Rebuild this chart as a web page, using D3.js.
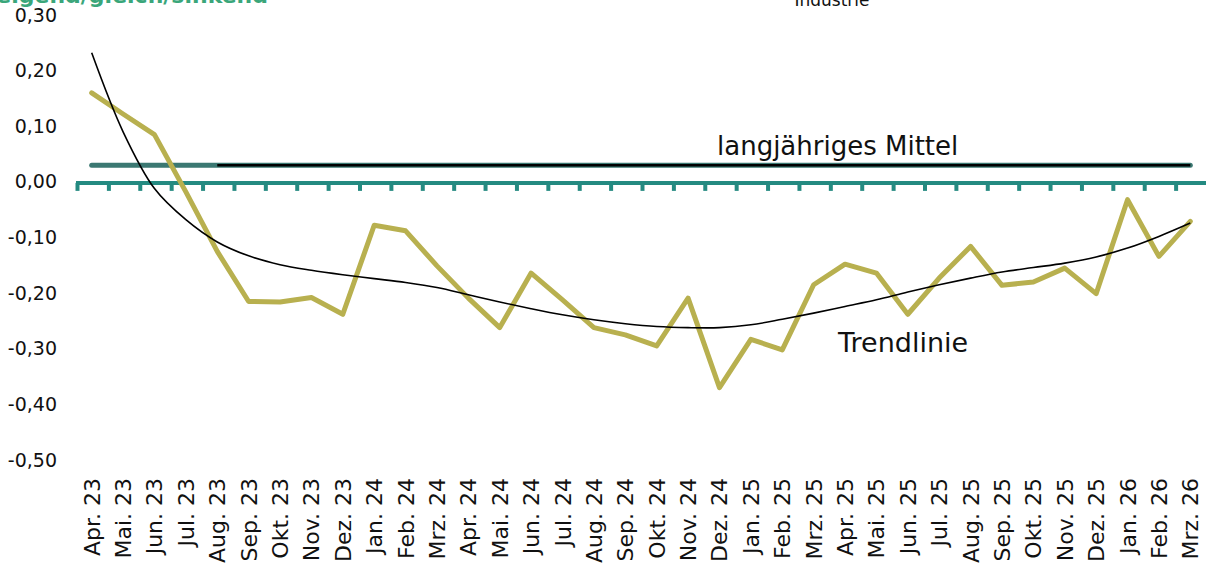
<!doctype html>
<html lang="de">
<head>
  <meta charset="utf-8">
  <title>Industrie - Tendenz</title>
<style>
body { margin: 0; background: #fff; }
svg { display: block; font-family: "DejaVu Sans", sans-serif; }
</style>
<script src="https://d3js.org/d3.v7.min.js"></script>
</head>
<body>
<div class="chart"></div>
<script>

  // months on the x axis
  let months = ["Apr. 23", "Mai. 23", "Jun. 23", "Jul. 23", "Aug. 23", "Sep. 23",
    "Okt. 23", "Nov. 23", "Dez. 23", "Jan. 24", "Feb. 24", "Mrz. 24",
    "Apr. 24", "Mai. 24", "Jun. 24", "Jul. 24", "Aug. 24", "Sep. 24",
    "Okt. 24", "Nov. 24", "Dez. 24", "Jan. 25", "Feb. 25", "Mrz. 25",
    "Apr. 25", "Mai. 25", "Jun. 25", "Jul. 25", "Aug. 25", "Sep. 25",
    "Okt. 25", "Nov. 25", "Dez. 25", "Jan. 26", "Feb. 26", "Mrz. 26"];

  // saldo steigend/gleich/sinkend
  let values = [0.160, 0.122, 0.085, -0.018, -0.125, -0.215,
    -0.216, -0.208, -0.238, -0.078, -0.088, -0.151,
    -0.209, -0.262, -0.164, -0.212, -0.262, -0.275,
    -0.295, -0.209, -0.370, -0.283, -0.302, -0.185,
    -0.148, -0.164, -0.238, -0.173, -0.116, -0.186,
    -0.180, -0.155, -0.201, -0.032, -0.134, -0.071];

  // trend line
  let trend = [0.232, 0.090, -0.012, -0.068, -0.108, -0.133,
    -0.149, -0.159, -0.167, -0.174, -0.181, -0.190,
    -0.203, -0.216, -0.228, -0.239, -0.248, -0.255,
    -0.260, -0.262, -0.262, -0.257, -0.247, -0.236,
    -0.224, -0.212, -0.198, -0.185, -0.173, -0.162,
    -0.154, -0.146, -0.135, -0.119, -0.098, -0.074];

  let mittel = 0.03;
  let yTicks = [0.3, 0.2, 0.1, 0, -0.1, -0.2, -0.3, -0.4, -0.5];

  let w = 1206, h = 567;

  let svg = d3.select(".chart").append("svg")
    .attr("width", w)
    .attr("height", h);

  let x = d3.scaleBand().domain(months).range([76, 1206]).padding(0);
  let y = d3.scaleLinear().domain([-0.5, 0.3]).range([460, 15]);
  let cx = d => x(d) + x.bandwidth() / 2;

  let de = d3.formatLocale({decimal: ",", thousands: ".", grouping: [3],
    currency: ["", " €"], minus: "-"});
  let fmt = de.format(".2f");

  // titles, cut off at the top like in the original
  svg.append("text")
    .attr("x", 268).attr("y", 3)
    .attr("text-anchor", "end")
    .attr("font-size", 22)
    .attr("font-weight", "bold")
    .attr("fill", "#3aa67a")
    .text("Tendenz: steigend/gleich/sinkend");

  svg.append("text")
    .attr("x", 832).attr("y", 6)
    .attr("text-anchor", "middle")
    .attr("font-size", 17)
    .attr("fill", "#111")
    .text("Industrie");

  // y axis, labels only
  let yAxis = svg.append("g")
    .attr("transform", "translate(60,0)")
    .call(d3.axisLeft(y).tickValues(yTicks).tickSize(0).tickPadding(3).tickFormat(fmt));
  yAxis.select(".domain").remove();
  yAxis.selectAll("text")
    .attr("font-size", 19)
    .attr("font-family", "DejaVu Sans, sans-serif")
    .attr("fill", "#111");

  // long-term mean: teal band, black line on top from Aug. 23
  svg.append("line")
    .attr("x1", cx(months[0])).attr("x2", cx(months[months.length - 1]))
    .attr("y1", y(mittel)).attr("y2", y(mittel))
    .attr("stroke", "#3b7872")
    .attr("stroke-width", 5)
    .attr("stroke-linecap", "round");
  svg.append("line")
    .attr("x1", cx(months[4])).attr("x2", cx(months[months.length - 1]))
    .attr("y1", y(mittel)).attr("y2", y(mittel))
    .attr("stroke", "#000")
    .attr("stroke-width", 2.5);

  // zero line with ticks at the band edges
  let zero = y(0) + 1;
  svg.append("line")
    .attr("x1", 76).attr("x2", w)
    .attr("y1", zero).attr("y2", zero)
    .attr("stroke", "#248a81")
    .attr("stroke-width", 4);
  svg.append("g").selectAll("line")
    .data(months)
    .enter()
    .append("line")
    .attr("x1", d => x(d) + 1.5).attr("x2", d => x(d) + 1.5)
    .attr("y1", zero).attr("y2", zero + 8)
    .attr("stroke", "#248a81")
    .attr("stroke-width", 4);

  // x labels, rotated
  svg.append("g").selectAll("text")
    .data(months)
    .enter()
    .append("text")
    .attr("transform", d => "translate(" + (cx(d) + 8) + ",478) rotate(-90)")
    .attr("text-anchor", "end")
    .attr("font-size", 22)
    .attr("fill", "#111")
    .text(d => d);

  // data line
  let line = d3.line()
    .x((d, i) => cx(months[i]))
    .y(d => y(d));

  svg.append("path")
    .datum(values)
    .attr("d", line)
    .attr("fill", "none")
    .attr("stroke", "#b8b04f")
    .attr("stroke-width", 5)
    .attr("stroke-linejoin", "round")
    .attr("stroke-linecap", "round");

  // trend
  svg.append("path")
    .datum(trend)
    .attr("d", line.curve(d3.curveCatmullRom.alpha(0.5)))
    .attr("fill", "none")
    .attr("stroke", "#000")
    .attr("stroke-width", 1.6);

  svg.append("text")
    .attr("x", 717).attr("y", 155)
    .attr("font-size", 26)
    .attr("fill", "#111")
    .text("langjähriges Mittel");

  svg.append("text")
    .attr("x", 838).attr("y", 352)
    .attr("font-size", 27)
    .attr("fill", "#111")
    .text("Trendlinie");

</script>
</body>
</html>
